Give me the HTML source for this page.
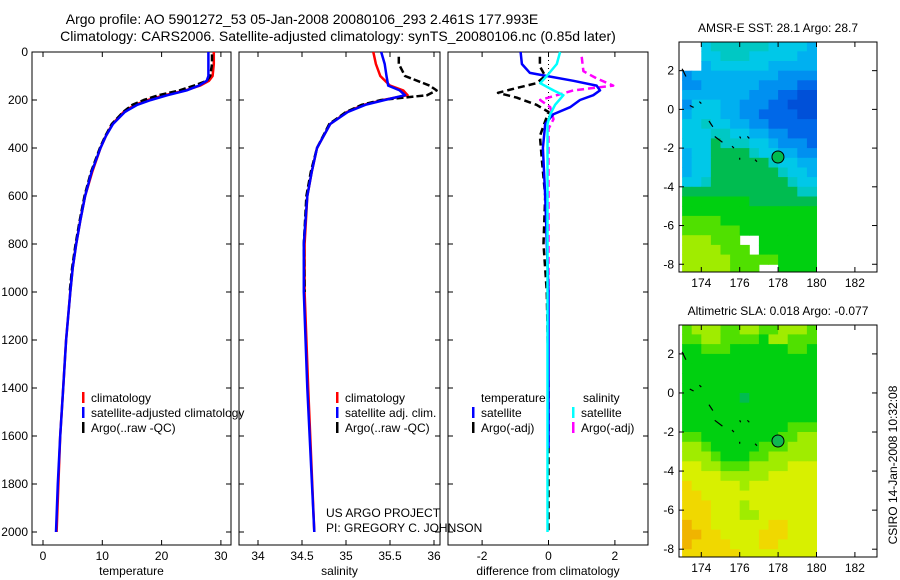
<!DOCTYPE html>
<html><head><meta charset="utf-8"><style>
body{margin:0;background:#fff;}
svg{display:block;font-family:"Liberation Sans",sans-serif;}
</style></head><body>
<svg id="c" width="900" height="580" xmlns="http://www.w3.org/2000/svg">
<text x="302" y="24" font-size="14" text-anchor="middle">Argo profile: AO 5901272_53 05-Jan-2008 20080106_293 2.461S 177.993E</text>
<text x="338" y="41" font-size="14" text-anchor="middle">Climatology: CARS2006. Satellite-adjusted climatology: synTS_20080106.nc (0.85d later)</text>
<g id="g"></g>
</svg>
<script>
// ---- profile data ----
const tClimP = [0,50,100,120,140,160,180,200,220,250,300,350,400,500,600,700,800,900,1000,1200,1400,1600,1800,2000];
const tClim  = [28.8,28.8,28.6,28.0,26.5,24,20.5,17.7,15.5,13.6,11.7,10.6,9.7,8.3,7.1,6.3,5.6,5.0,4.6,3.9,3.4,2.9,2.6,2.3];
const tSatP  = [0,50,100,120,140,160,180,200,220,250,300,350,400,500,600,700,800,900,1000,1200,1400,1600,1800,2000];
const tSat   = [27.9,27.9,27.9,27.6,26.3,24.2,21.0,18.2,15.9,13.8,11.8,10.6,9.7,8.2,7.1,6.3,5.6,5.0,4.6,3.9,3.4,2.9,2.5,2.2];
const tArgoP = [10,50,100,120,140,160,180,200,220,250,300,350,400,500,600,700,800,900,1000];
const tArgo  = [28.5,28.5,28.2,27.6,25.5,23.0,19.5,17.0,15.1,13.5,11.6,10.5,9.6,8.1,7.0,6.2,5.5,4.9,4.5];
const sClimP = [0,50,100,140,160,180,200,220,250,300,400,500,600,800,1000,1400,2000];
const sClim  = [35.31,35.34,35.39,35.5,35.65,35.7,35.42,35.2,35.01,34.82,34.67,34.61,34.56,34.53,34.53,34.57,34.64];
const sSat   = [35.4,35.44,35.46,35.48,35.61,35.67,35.44,35.22,35.02,34.82,34.67,34.61,34.56,34.52,34.52,34.56,34.64];
const sArgoP = [20,50,100,140,160,180,200,220,250,300,400,500,600,800,1000];
const sArgo  = [35.6,35.6,35.67,35.95,36.03,35.92,35.4,35.18,35.0,34.81,34.67,34.6,34.55,34.52,34.53];
const dTSatP = [0,50,87,100,120,140,160,180,200,230,260,300,400,600,1000,1650];
const dTSat  = [-0.84,-0.8,-0.56,-0.05,0.75,1.45,1.55,1.35,0.95,0.65,0.14,-0.1,-0.17,-0.1,0,0];
const dTArgoP= [20,60,100,130,150,170,190,220,250,350,450,600,800,1000,1400,2000];
const dTArgo = [-0.26,-0.26,-0.1,-0.36,-0.96,-1.52,-0.96,-0.36,0,-0.26,-0.2,-0.1,-0.15,-0.05,0,0];
const dSSatP = [0,50,100,130,160,180,220,260,300,600,1000,2000];
const dSSat  = [0.35,0.25,-0.05,-0.25,0.15,0.45,0.2,0.05,-0.03,-0.03,-0.03,-0.03];
const dSArgoP= [20,80,110,140,160,180,200,230,280,320,600,1000];
const dSArgo = [1.0,1.05,1.45,1.95,0.75,0.25,-0.25,0.05,0.15,0.0,0.0,0.0];
const depthTicks = [0,200,400,600,800,1000,1200,1400,1600,1800,2000];
const tTicks = [0,10,20,30];
const sTicks = [34,34.5,35,35.5,36];
const dTicks = [-2,0,2];
// ---- map data (0.5 deg cells, lon 173..180, lat 3.5..-8.5), '-' = missing ----
const sstRows = [
"--455555544443","--445554444433","--344444433333","23333333332222",
"22333333222211","33333332221100","24443322211000","34443322111100",
"44544332211111","44455443322111","44465554432221","34466665443322",
"34466666654433","34466666665443","44566666666544","66666666666655",
"77777776666666","77777777777777","88887777777777","88888877777777",
"999888--777777","9999888-777777","99999888887777","99999888--7777"];
const slaRows = [
"89998899889998","88998888799888","77888777777887","77777777777777",
"77777777777777","77777777777777","77777777777777","77777767777777",
"77777777777777","77777777777777","77777777777888","88777777778899",
"99877777888999","99987778899999","aa998889999aaa","aaaa99999aaaaa",
"baaaaa9aaaaaaa","bbaaaaaaaaaaaa","bbbaaa9aaaaaaa","bbbaaa99aaaaaa",
"cbbaaaaaabbaaa","ccbbaaaabbbaaa","cbbbbaaabbaaaa","bbbbbbaaaaaaaa"];
const lonTicks = [174,176,178,180,182];
const latTicks = [2,0,-2,-4,-6,-8];
const argoLon = 177.993, argoLat = -2.461;

const NS='http://www.w3.org/2000/svg';
const G=document.getElementById('g');
function el(tag,at,parent){const e=document.createElementNS(NS,tag);for(const k in at)e.setAttribute(k,at[k]);(parent||G).appendChild(e);return e;}
function txt(x,y,s,fs,anchor,parent){const t=el('text',{x:x,y:y,'font-size':fs,'text-anchor':anchor||'start'},parent);t.textContent=s;return t;}

const yTop=52,yBot=545;
const yP=p=>52+p*0.24;
const panels=[
 {name:'temperature',x0:32,x1:231,v0:0,px:43,sc:5.93,ticks:tTicks,label:'temperature',lab:true},
 {name:'salinity',x0:239,x1:440,px:258,v0:34,sc:88,ticks:sTicks,label:'salinity'},
 {name:'difference',x0:448,x1:648,px:548.5,v0:0,sc:33.2,ticks:dTicks,label:'difference from climatology'}];
panels.forEach((P,i)=>{
  const g=el('g',{});
  
  
  P.fx=v=>P.px+(v-P.v0)*P.sc;
  const fr=el('rect',{x:P.x0,y:yTop,width:P.x1-P.x0,height:yBot-yTop,fill:'none',stroke:'#000','stroke-width':1},g);
  
  depthTicks.forEach(d=>{const y=yP(d);
    el('line',{x1:P.x0,y1:y,x2:P.x0+5,y2:y,stroke:'#000'},g);
    el('line',{x1:P.x1,y1:y,x2:P.x1-5,y2:y,stroke:'#000'},g);
    if(i===0){const t=txt(P.x0-4,y+4,String(d),12,'end',g);}
  });
  P.ticks.forEach(v=>{const x=P.fx(v);
    el('line',{x1:x,y1:yBot,x2:x,y2:yBot-5,stroke:'#000'},g);
    el('line',{x1:x,y1:yTop,x2:x,y2:yTop+5,stroke:'#000'},g);
    const t=txt(x,yBot+15,String(v),12,'middle',g);
  });
  const xl=txt((P.x0+P.x1)/2,yBot+30,P.label,12,'middle',g);
  
});
function line(P,ps,vs,color,dash,name){
  let d='';ps.forEach((p,k)=>{d+=(k?'L':'M')+P.fx(vs[k]).toFixed(1)+','+yP(p).toFixed(1);});
  const e=el('path',{d:d,fill:'none',stroke:color,'stroke-width':2.5,'stroke-linejoin':'round'});
  if(dash)e.setAttribute('stroke-dasharray',dash);
  
}
const [P1,P2,P3]=panels;
line(P1,tClimP,tClim,'#f00',null,'temp-climatology-line');
line(P1,tArgoP,tArgo,'#000','7,3','temp-argo-line');
line(P1,tSatP,tSat,'#00f',null,'temp-satellite-line');
line(P2,sClimP,sClim,'#f00',null,'sal-climatology-line');
line(P2,sArgoP,sArgo,'#000','7,3','sal-argo-line');
line(P2,sClimP,sSat,'#00f',null,'sal-satellite-line');
el('line',{x1:P3.fx(0),y1:yP(0),x2:P3.fx(0),y2:yP(300),stroke:'#000','stroke-dasharray':'1,3'});
line(P3,dTArgoP,dTArgo,'#000','7,4','diff-temp-argo-line');
line(P3,dSArgoP,dSArgo,'#f0f','7,4','diff-sal-argo-line');
line(P3,dTSatP,dTSat,'#00f',null,'diff-temp-satellite-line');
line(P3,dSSatP,dSSat,'#0ff',null,'diff-sal-satellite-line');

function legend(x,y,items,name){
  const g=el('g',{});
  items.forEach((it,k)=>{const yy=y+k*15;
    if(it[1])el('rect',{x:x,y:yy-10,width:2.5,height:11,fill:it[1]},g);
    txt(x+(it[1]?9:0),yy,it[0],12,'start',g);});
}
legend(82,402,[['climatology','#f00'],['satellite-adjusted climatology','#00f'],['Argo(..raw -QC)','#000']],'temperature-legend');
legend(336,402,[['climatology','#f00'],['satellite adj. clim.','#00f'],['Argo(..raw -QC)','#000']],'salinity-legend');
legend(481,402,[['temperature',null]],'diff-legend-temp-header');
legend(472,417,[['satellite','#00f'],['Argo(-adj)','#000']],'diff-legend-temp');
legend(583,402,[['salinity',null]],'diff-legend-sal-header');
legend(572,417,[['satellite','#0ff'],['Argo(-adj)','#f0f']],'diff-legend-sal');
const cr=txt(326,517,'US ARGO PROJECT',12);
const pi=txt(326,532,'PI: GREGORY C. JOHNSON',12);

// ---- maps ----
const pal={'0':'#0050d8','1':'#0068e8','2':'#0090f0','3':'#00b0f0','4':'#00c8e8','5':'#00c8c4','6':'#00bc50','7':'#00d010','8':'#50e000','9':'#a0ec00','a':'#d8f000','b':'#f0d800','c':'#f0b400'};
function map(top,bot,lat2y0,rows,title,name){
  const L=679,R=877;
  const fx=lon=>701.3+(lon-174)*19.2;
  const dy=(bot-top)/(3.48+8.4);
  const fy=lat=>top+(3.48-lat)*dy;
  const g=el('g',{});
  rows.forEach((r,i)=>{for(let j=0;j<r.length;j++){const c=r[j];if(c==='-')continue;
    const lon=173+j*0.5,lat=3.5-i*0.5;
    const x0=Math.max(L,fx(lon)),x1=fx(lon+0.5),y0=Math.max(top,fy(lat)),y1=Math.min(bot,fy(lat-0.5));
    el('rect',{x:x0.toFixed(1),y:y0.toFixed(1),width:(x1-x0+0.5).toFixed(1),height:(y1-y0+0.5).toFixed(1),fill:pal[c]},g);}});
  const isl=[[174.4,-0.6,174.6,-0.9],[174.7,-1.4,175.1,-1.7],[176,-1.4,176.05,-1.5],[176.4,-1.4,176.5,-1.5],[175.6,-1.9,175.7,-2.0],[176,-2.5,176,-2.6],[176.8,-2.6,176.9,-2.7],[173.4,0.2,173.6,0.1],[173.9,0.4,174.0,0.3],[173,2.1,173.2,1.7]];
  isl.forEach(s=>el('line',{x1:fx(s[0]),y1:fy(s[1]),x2:fx(s[2]),y2:fy(s[3]),stroke:'#000','stroke-width':1.2},g));
  const circ=el('circle',{cx:fx(argoLon),cy:fy(argoLat),r:6,fill:name==='sst-map'?'#00bc50':'#10b850',stroke:'#000','stroke-width':1},g);
  
  el('rect',{x:L,y:top,width:R-L,height:bot-top,fill:'none',stroke:'#000'},g);
  lonTicks.forEach(v=>{const x=fx(v);el('line',{x1:x,y1:bot,x2:x,y2:bot-5,stroke:'#000'},g);el('line',{x1:x,y1:top,x2:x,y2:top+5,stroke:'#000'},g);
    const t=txt(x,bot+15,String(v),12,'middle',g);});
  latTicks.forEach(v=>{const y=fy(v);el('line',{x1:L,y1:y,x2:L+5,y2:y,stroke:'#000'},g);el('line',{x1:R,y1:y,x2:R-5,y2:y,stroke:'#000'},g);
    const t=txt(L-5,y+4,String(v),12,'end',g);});
  const tt=txt(778,top-10,title,12,'middle',g);
}
map(42,272,0,sstRows,'AMSR-E SST: 28.1 Argo: 28.7','sst-map');
map(325,557,0,slaRows,'Altimetric SLA: 0.018 Argo: -0.077','sla-map');
const st=txt(0,0,'CSIRO 14-Jan-2008 10:32:08',12,'middle');
st.setAttribute('transform','translate(897,465) rotate(-90)');


</script>
</body></html>
